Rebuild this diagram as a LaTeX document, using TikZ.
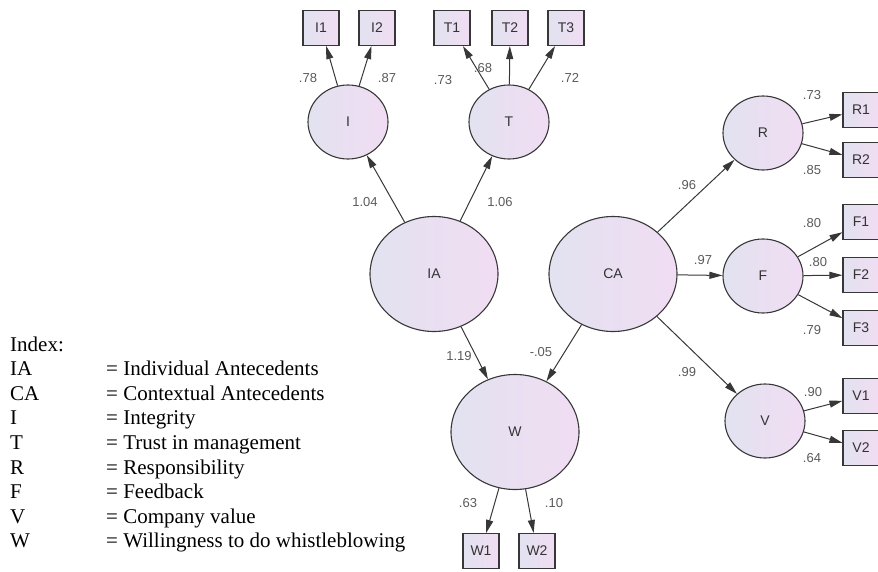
\documentclass[tikz,border=0pt]{standalone}
\usepackage{fontspec}
\setmainfont{Liberation Serif}
\newfontfamily\diagfont{Liberation Sans}
\usetikzlibrary{shapes.geometric,arrows.meta}

\definecolor{latleft}{RGB}{226,226,240}
\definecolor{latright}{RGB}{241,221,243}
\definecolor{edgegray}{RGB}{55,55,55}
\definecolor{coefgray}{RGB}{90,90,90}

\begin{document}
\begin{tikzpicture}[x=1pt, y=-1pt,
  latent/.style={ellipse, draw=edgegray, line width=1.1pt, left color=latleft, right color=latright,
    inner sep=0pt, text=black!80, font=\diagfont\fontsize{14}{16}\selectfont},
  smallvar/.style={latent, minimum width=80pt, minimum height=74pt},
  bigvar/.style={latent, minimum width=128pt, minimum height=115pt},
  obs/.style={rectangle, draw=edgegray, line width=1.1pt, left color=latleft, right color=latright,
    minimum width=36pt, minimum height=35pt, inner sep=0pt, text=black!80,
    font=\diagfont\fontsize{14}{16}\selectfont},
  path/.style={draw=edgegray, line width=1pt, -{Triangle[length=13pt,width=7pt]}},
  coef/.style={inner sep=0pt, text=coefgray, font=\diagfont\fontsize{13}{15}\selectfont}]

  \useasboundingbox (0,0) rectangle (878,572);

  % Latent variables
  \node[bigvar] (IA) at (434,274) {IA};
  \node[bigvar] (CA) at (613,274) {CA};
  \node[bigvar] (W) at (515,432) {W};
  \node[smallvar] (I) at (348,122) {I};
  \node[smallvar] (T) at (509,122) {T};
  \node[smallvar] (R) at (763,133) {R};
  \node[smallvar] (F) at (763,276) {F};
  \node[smallvar] (V) at (765,421) {V};

  % Indicators
  \node[obs] (I1) at (321,28) {I1};
  \node[obs] (I2) at (377,28) {I2};
  \node[obs] (T1) at (452,28) {T1};
  \node[obs] (T2) at (510,28) {T2};
  \node[obs] (T3) at (566,28) {T3};
  \node[obs] (R1) at (861,110) {R1};
  \node[obs] (R2) at (861,160) {R2};
  \node[obs] (F1) at (861,222) {F1};
  \node[obs] (F2) at (861,275) {F2};
  \node[obs] (F3) at (861,328) {F3};
  \node[obs] (V1) at (861,396) {V1};
  \node[obs] (V2) at (861,448) {V2};
  \node[obs] (W1) at (481,551) {W1};
  \node[obs] (W2) at (537,551) {W2};

  % Structural paths
  \draw[path] (IA) -- (I);
  \draw[path] (IA) -- (T);
  \draw[path] (IA) -- (W);
  \draw[path] (CA) -- (R);
  \draw[path] (CA) -- (F);
  \draw[path] (CA) -- (V);
  \draw[path] (CA) -- (W);

  % Measurement paths
  \draw[path] (I) -- (I1);
  \draw[path] (I) -- (I2);
  \draw[path] (T) -- (T1);
  \draw[path] (T) -- (T2);
  \draw[path] (T) -- (T3);
  \draw[path] (R) -- (R1);
  \draw[path] (R) -- (R2);
  \draw[path] (F) -- (F1);
  \draw[path] (F) -- (F2);
  \draw[path] (F) -- (F3);
  \draw[path] (V) -- (V1);
  \draw[path] (V) -- (V2);
  \draw[path] (W) -- (W1);
  \draw[path] (W) -- (W2);

  % Estimates
  \node[coef] (cIA) at (365,202) {1.04};
  \node[coef] (cIT) at (500,202) {1.06};
  \node[coef] (cIW) at (459,356) {1.19};
  \node[coef] (cCW) at (541,352) {-.05};
  \node[coef] (cCR) at (687,185) {.96};
  \node[coef] (cCF) at (703,260) {.97};
  \node[coef] (cCV) at (687,372) {.99};
  \node[coef] (cI1) at (308,78) {.78};
  \node[coef] (cI2) at (387,78) {.87};
  \node[coef] (cT1) at (443,80) {.73};
  \node[coef] (cT2) at (483,68) {.68};
  \node[coef] (cT3) at (570,78) {.72};
  \node[coef] (cR1) at (812,95) {.73};
  \node[coef] (cR2) at (812,170) {.85};
  \node[coef] (cF1) at (812,223) {.80};
  \node[coef] (cF2) at (818,262) {.80};
  \node[coef] (cF3) at (812,330) {.79};
  \node[coef] (cV1) at (813,392) {.90};
  \node[coef] (cV2) at (812,458) {.64};
  \node[coef] (cW1) at (468,503) {.63};
  \node[coef] (cW2) at (554,503) {.10};

  % Index
  \node[anchor=base west, inner sep=0pt, font=\fontsize{21}{24.6}\selectfont] (index) at (10,351)
    {\begin{tabular}[t]{@{}p{96pt}@{}l@{}}
      Index: & \\
      IA & = Individual Antecedents \\
      CA & = Contextual Antecedents \\
      I  & = Integrity \\
      T  & = Trust in management \\
      R  & = Responsibility \\
      F  & = Feedback \\
      V  & = Company value \\
      W  & = Willingness to do whistleblowing
    \end{tabular}};
\end{tikzpicture}
\end{document}
